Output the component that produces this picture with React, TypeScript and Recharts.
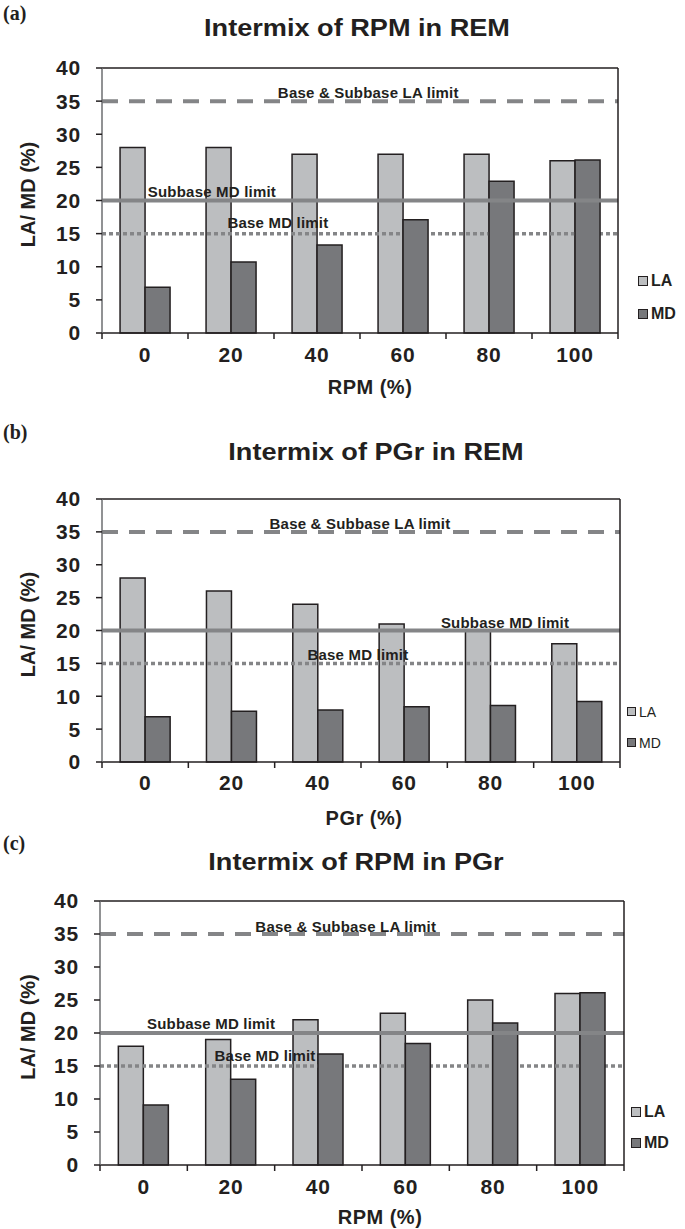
import React from 'react';
import { BarChart, Bar, XAxis, YAxis, CartesianGrid, ReferenceLine, Legend } from 'recharts';

const categories = ['0', '20', '40', '60', '80', '100'];
const yTicks = [0, 5, 10, 15, 20, 25, 30, 35, 40];

// (a) RPM in REM
const rpmInRemLA = [28, 28, 27, 27, 27, 26];
const rpmInRemMD = [6.9, 10.7, 13.3, 17.1, 22.9, 26.1];
// (b) PGr in REM
const pgrInRemLA = [28, 26, 24, 21, 20, 18];
const pgrInRemMD = [6.9, 7.7, 7.9, 8.4, 8.6, 9.2];
// (c) RPM in PGr
const rpmInPgrLA = [18, 19, 22, 23, 25, 26];
const rpmInPgrMD = [9.1, 13, 16.8, 18.4, 21.5, 26.1];

const laLimit = 35;
const subbaseMdLimit = 20;
const baseMdLimit = 15;
const yMax = 40;

const font = "'Liberation Sans', Arial, sans-serif";
const ink = '#231f20';
const laFill = '#bcbec0';
const mdFill = '#77787b';
const limitGray = '#848587';

const panels = [
  {
    letter: '(a)', title: 'Intermix of RPM in REM', xLabel: 'RPM (%)', la: rpmInRemLA, md: rpmInRemMD,
    top: 0, height: 405, plotTop: 68, plotBottom: 333, left: 102, right: 67,
    titleX: 357, titleTop: 16, letterTop: 3, xLabelDx: 10, xLabelY: 61, tickY: 29,
    legend: { left: 638, top: 264, row: 33, bold: true, size: 16, sq: 10 },
    fracs: [0.516, 0.213, 0.341], lifts: [3.5, 3.5, 5.5],
  },
  {
    letter: '(b)', title: 'Intermix of PGr in REM', xLabel: 'PGr (%)', la: pgrInRemLA, md: pgrInRemMD,
    top: 410, height: 420, plotTop: 89, plotBottom: 352, left: 102, right: 65,
    titleX: 376, titleTop: 440, letterTop: 422, xLabelDx: 3, xLabelY: 63, tickY: 28,
    legend: { left: 627, top: 286, row: 31, bold: false, size: 14, sq: 9 },
    fracs: [0.498, 0.778, 0.494], lifts: [2.5, 2.5, 3.5],
  },
  {
    letter: '(c)', title: 'Intermix of RPM in PGr', xLabel: 'RPM (%)', la: rpmInPgrLA, md: rpmInPgrMD,
    top: 830, height: 399, plotTop: 71, plotBottom: 335, left: 100, right: 61,
    titleX: 356, titleTop: 850, letterTop: 833, xLabelDx: 18, xLabelY: 59, tickY: 29,
    legend: { left: 631, top: 266, row: 31, bold: true, size: 16, sq: 10 },
    fracs: [0.469, 0.212, 0.315], lifts: [2.5, 4.5, 5.5],
  },
];

const CatTick = (props: any) => {
  const { x, y, payload, half, labelY } = props;
  const last = String(payload.value) === categories[categories.length - 1];
  return (
    <g>
      <line x1={x - half} x2={x - half} y1={y} y2={y + 6} stroke={ink} strokeWidth={1.5} />
      {last && (
        // closing tick plus the right edge of the plot frame
        <line x1={x + half} x2={x + half} y1={y + 6} y2={props.frameTop} stroke={ink} strokeWidth={1.5} />
      )}
      <text x={x} y={y + labelY} textAnchor="middle" fontFamily={font} fontWeight="bold" fontSize={21} letterSpacing={0.8} fill={ink}>
        {payload.value}
      </text>
    </g>
  );
};

const limitLabel = (text: string, frac: number, lift: number) => (props: any) => {
  const vb = props.viewBox || {};
  return (
    <text x={vb.x + vb.width * frac} y={vb.y - lift} textAnchor="middle" fontFamily={font} fontWeight="bold" fontSize={15} letterSpacing={0.2} fill={ink}>
      {text}
    </text>
  );
};

const Panel = ({ p }: { p: any }) => {
  const data = categories.map((c, i) => ({ x: c, LA: p.la[i], MD: p.md[i] }));
  const plotW = 685 - p.left - p.right;
  const lg = p.legend;
  return (
    <div style={{ position: 'absolute', left: 0, top: p.top, width: 685, height: p.height }}>
      <BarChart
        width={685}
        height={p.height}
        data={data}
        margin={{ top: p.plotTop, right: p.right, bottom: 0, left: 0 }}
        barCategoryGap="21%"
        barGap={0}
      >
        {/* frame: top edge of the plot area */}
        <CartesianGrid
          stroke={ink}
          strokeWidth={1.5}
          vertical={false}
          horizontalCoordinatesGenerator={({ offset }: any) => [offset.top]}
        />
        <XAxis
          dataKey="x"
          height={p.height - p.plotBottom}
          interval={0}
          axisLine={{ stroke: ink, strokeWidth: 1.5 }}
          tickLine={false}
          tickSize={0}
          tickMargin={0}
          tick={<CatTick half={plotW / categories.length / 2} labelY={p.tickY} frameTop={p.plotTop} />}
          label={(lp: any) => {
            const vb = lp.viewBox || {};
            return (
              <text x={vb.x + vb.width / 2 + p.xLabelDx} y={vb.y + p.xLabelY} textAnchor="middle" fontFamily={font} fontWeight="bold" fontSize={20} letterSpacing={0.5} fill={ink}>
                {p.xLabel}
              </text>
            );
          }}
        />
        <YAxis
          width={p.left}
          domain={[0, yMax]}
          ticks={yTicks}
          interval={0}
          axisLine={{ stroke: '#6d6e71', strokeWidth: 1.5 }}
          tickLine={{ stroke: ink, strokeWidth: 1.5 }}
          tickSize={6}
          tickMargin={15}
          tick={{ fontFamily: font, fontWeight: 'bold', fontSize: 21, fill: ink, letterSpacing: 0.8 }}
          label={(lp: any) => {
            const vb = lp.viewBox || {};
            const cy = vb.y + vb.height / 2 - 6;
            return (
              <text x={28} y={cy} transform={`rotate(-90, 28, ${cy})`} textAnchor="middle" dominantBaseline="central" fontFamily={font} fontWeight="bold" fontSize={20} fill={ink}>
                LA/ MD (%)
              </text>
            );
          }}
        />
        <ReferenceLine y={laLimit} stroke={limitGray} strokeWidth={4} strokeDasharray="16 11" zIndex={330} label={limitLabel('Base & Subbase LA limit', p.fracs[0], p.lifts[0])} />
        <Bar dataKey="LA" name="LA" fill={laFill} stroke={ink} strokeWidth={1.5} isAnimationActive={false} zIndex={300} />
        <ReferenceLine y={baseMdLimit} stroke={limitGray} strokeWidth={3.5} strokeDasharray="4 3" zIndex={310} label={limitLabel('Base MD limit', p.fracs[2], p.lifts[2])} />
        <Bar dataKey="MD" name="MD" fill={mdFill} stroke={ink} strokeWidth={1.5} isAnimationActive={false} zIndex={320} />
        <ReferenceLine y={subbaseMdLimit} stroke={limitGray} strokeWidth={4} zIndex={330} label={limitLabel('Subbase MD limit', p.fracs[1], p.lifts[1])} />
        <Legend
          layout="horizontal"
          align="center"
          verticalAlign="middle"
          wrapperStyle={{ position: 'absolute', left: lg.left, top: lg.top, width: 60, height: lg.row * 2 }}
          content={(lp: any) => (
            <div style={{ fontFamily: font, fontWeight: lg.bold ? 'bold' : 'normal', fontSize: lg.size, color: ink }}>
              {(lp.payload || []).map((it: any) => (
                <div key={it.value} style={{ display: 'flex', alignItems: 'center', height: lg.row }}>
                  <span style={{ display: 'inline-block', width: lg.sq, height: lg.sq, background: it.color, border: `1.5px solid ${ink}`, boxSizing: 'border-box', marginRight: 3 }} />
                  {it.value}
                </div>
              ))}
            </div>
          )}
        />
      </BarChart>
    </div>
  );
};

export default function App() {
  return (
    <div style={{ position: 'absolute', left: 0, top: 0, width: 685, height: 1229, background: '#fff', overflow: 'hidden' }}>
      {panels.map((p) => (
        <React.Fragment key={p.letter}>
          <div style={{ position: 'absolute', left: 3, top: p.letterTop, fontFamily: "'Liberation Serif', 'Times New Roman', serif", fontWeight: 'bold', fontSize: 20, lineHeight: '20px', color: ink }}>
            {p.letter}
          </div>
          <div style={{ position: 'absolute', left: p.titleX - 200, top: p.titleTop, width: 400, textAlign: 'center', fontFamily: font, fontWeight: 'bold', fontSize: 24, lineHeight: '24px', color: ink, transform: 'scaleX(1.13)' }}>
            {p.title}
          </div>
          <Panel p={p} />
        </React.Fragment>
      ))}
    </div>
  );
}
